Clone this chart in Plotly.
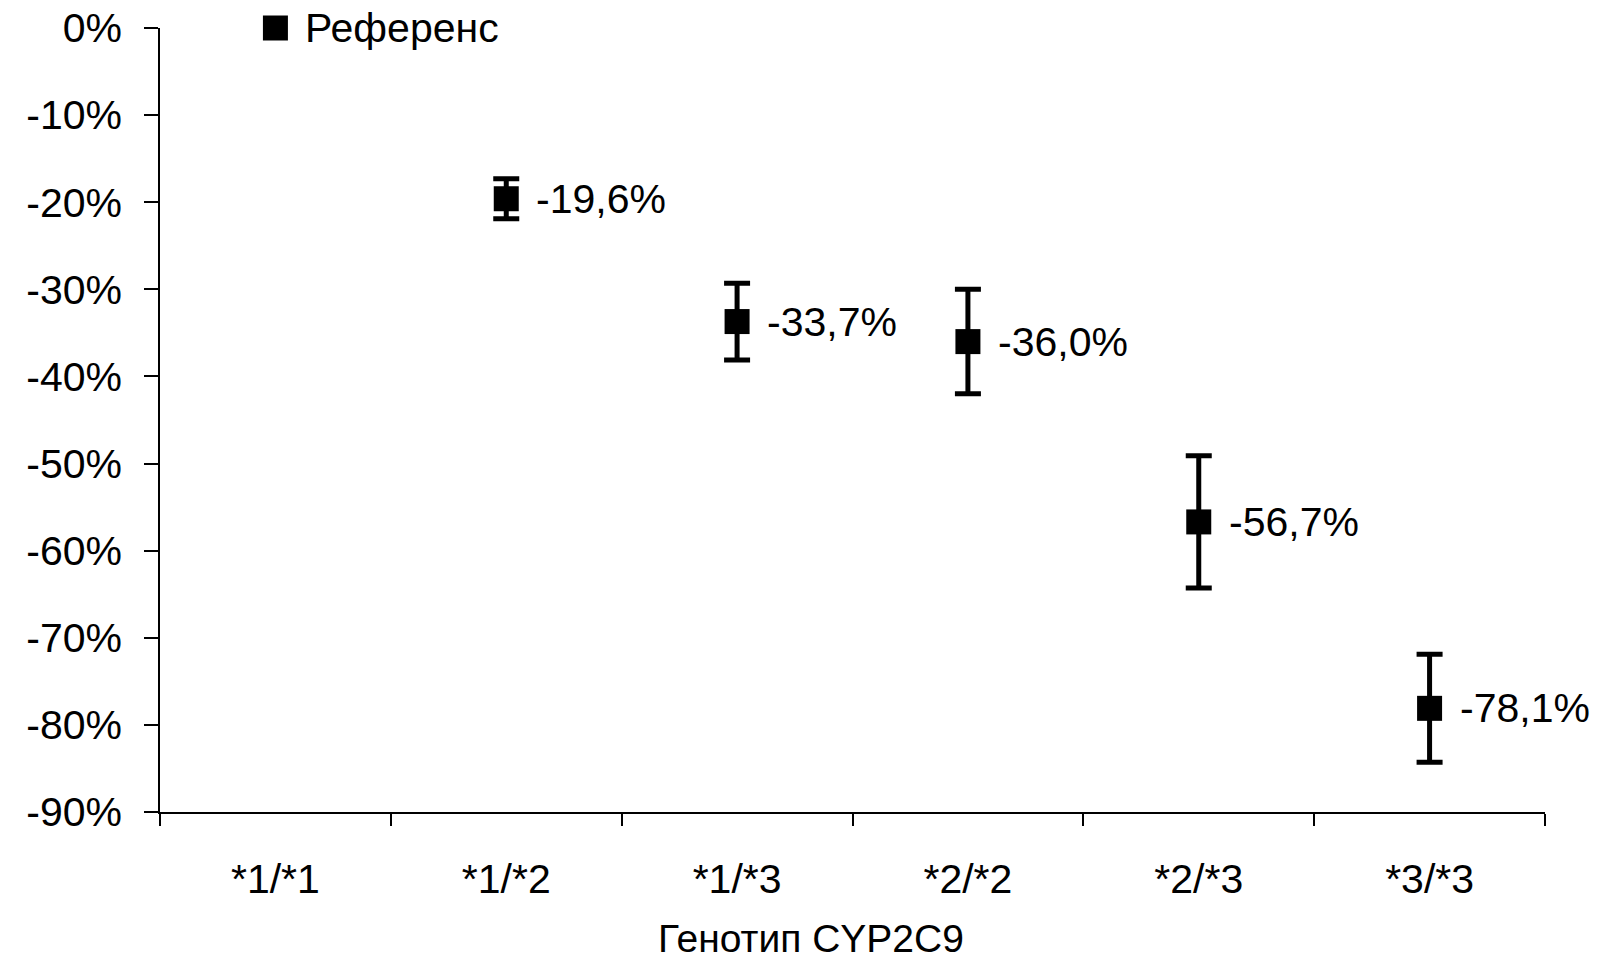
import plotly.graph_objects as go

genotypes = ["*1/*1", "*1/*2", "*1/*3", "*2/*2", "*2/*3", "*3/*3"]
change = [0.0, -19.6, -33.7, -36.0, -56.7, -78.1]
err = [0.0, 2.3, 4.4, 6.0, 7.6, 6.2]
labels = ["Референс", "-19,6%", "-33,7%", "-36,0%", "-56,7%", "-78,1%"]
y_ticks = [0, -10, -20, -30, -40, -50, -60, -70, -80, -90]

FONT = "Liberation Sans, Arial, Helvetica, sans-serif"
FS = 41

fig = go.Figure()
fig.add_trace(go.Scatter(
    x=genotypes[:1], y=change[:1], mode="markers",
    marker=dict(symbol="square", size=25, color="black"),
    cliponaxis=False, showlegend=False,
))
fig.add_trace(go.Scatter(
    x=genotypes[1:], y=change[1:], mode="markers",
    marker=dict(symbol="square", size=25, color="black"),
    error_y=dict(type="data", array=err[1:], visible=True, color="black",
                 thickness=5, width=13),
    cliponaxis=False, showlegend=False,
))
for g, v, t in zip(genotypes, change, labels):
    fig.add_annotation(x=g, y=v, text=t, showarrow=False, xanchor="left",
                       yanchor="middle", xshift=28,
                       font=dict(family=FONT, size=FS, color="black"))

fig.add_annotation(x=0.5, xref="paper", y=-0.191, yref="paper", yanchor="bottom",
                   xshift=-42, text="Генотип CYP2C9", showarrow=False,
                   font=dict(family=FONT, size=39, color="black"))

fig.update_layout(
    width=1610, height=960,
    margin=dict(l=160, r=65, t=28, b=148, autoexpand=False),
    paper_bgcolor="white", plot_bgcolor="white",
    font=dict(family=FONT, size=FS, color="black"),
    xaxis=dict(type="category", categoryorder="array", categoryarray=genotypes,
               range=[-0.5, 5.5], showline=True, linecolor="black", linewidth=2,
               ticks="outside", ticklen=12, tickwidth=1.5, tickcolor="black",
               tickson="boundaries", showgrid=False, zeroline=False,
               automargin=False,
               ticklabelstandoff=30, tickfont=dict(family=FONT, size=FS)),
    yaxis=dict(range=[-90, 0], tickvals=y_ticks,
               ticktext=[f"{v}%" for v in y_ticks],
               showline=True, linecolor="black", linewidth=1.5,
               ticks="outside", ticklen=14, tickwidth=1.5, tickcolor="black",
               showgrid=False, zeroline=False, ticklabelstandoff=14,
               automargin=False, ticklabeloverflow="allow",
               tickfont=dict(family=FONT, size=FS)),
)

fig.write_html("out.html", config={"displayModeBar": False},
               post_script="document.body.style.margin='0px';"
                           "document.body.style.overflow='hidden';")
